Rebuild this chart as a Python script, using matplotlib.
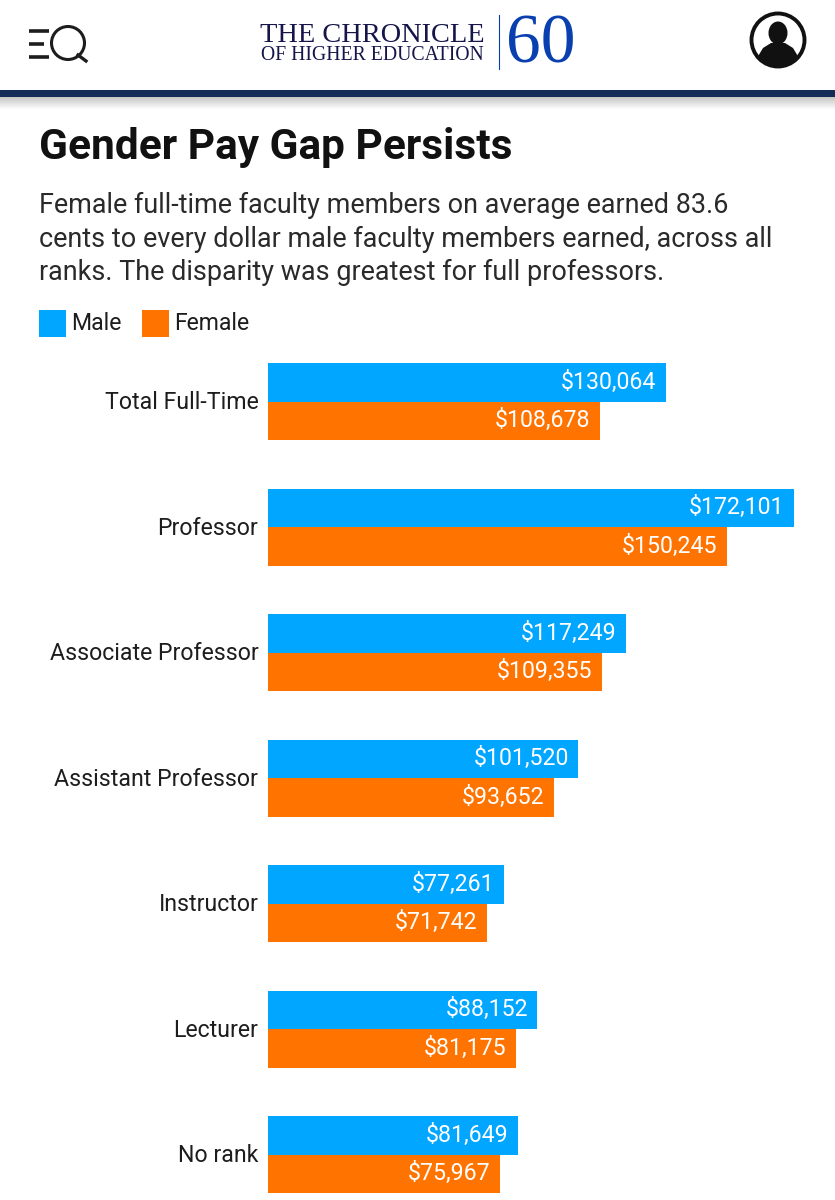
import matplotlib
matplotlib.use("Agg")
import matplotlib.pyplot as plt
from matplotlib.patches import Rectangle, Circle, Ellipse, Polygon
from matplotlib.transforms import ScaledTranslation
import numpy as np

categories = ["Total Full-Time", "Professor", "Associate Professor", "Assistant Professor",
              "Instructor", "Lecturer", "No rank"]
male = [130064, 172101, 117249, 101520, 77261, 88152, 81649]
female = [108678, 150245, 109355, 93652, 71742, 81175, 75967]
title = "Gender Pay Gap Persists"
subtitle = ["Female full-time faculty members on average earned 83.6",
            "cents to every dollar male faculty members earned, across all",
            "ranks. The disparity was greatest for full professors."]
BLUE = "#00a6ff"; ORANGE = "#ff7300"; INK = "#1d1d1d"; NAVY = "#142c58"; LOGO = "#15154a"; SIXTY = "#0a3fb0"

plt.rcParams["font.family"] = ["Roboto", "DejaVu Sans"]
W, H = 835, 1200
fig = plt.figure(figsize=(W/100, H/100), dpi=100, facecolor="white")

# overlay in pixel coordinates for page furniture
pg = fig.add_axes([0, 0, 1, 1]); pg.set_xlim(0, W); pg.set_ylim(H, 0); pg.axis("off")
# header rule and shadow
pg.add_patch(Rectangle((0, 89.5), W, 8, color=NAVY, lw=0))
shadow = np.linspace(0.78, 1, 14)[:, None]
pg.imshow(shadow, extent=(0, W, 110, 97), cmap="gray", vmin=0, vmax=1, aspect="auto", zorder=1)
pg.set_xlim(0, W); pg.set_ylim(H, 0)
# search icon
for y, x1 in [(31, 49), (44, 44), (57, 49)]:
    pg.plot([29, x1], [y, y], color=INK, lw=2.6, solid_capstyle="butt")
pg.add_patch(Circle((68, 43), 16.5, fill=False, ec=INK, lw=2.2))
pg.plot([78, 86], [55, 61], color=INK, lw=2.4)
# logo
pg.text(372, 35, "THE CHRONICLE", family="Liberation Serif", fontsize=20.4, color=LOGO, ha="center", va="center")
pg.text(372, 55.5, "OF HIGHER EDUCATION", family="Liberation Serif", fontsize=14.2, color=LOGO, ha="center", va="center")
pg.plot([499, 499], [15, 69], color=SIXTY, lw=0.8)
pg.text(541, 46, "60", family="Liberation Serif", fontsize=50, color=SIXTY, ha="center", va="center")
# user icon
pg.add_patch(Circle((778, 40), 26.5, fc="white", ec="#111111", lw=2.8))
pg.add_patch(Ellipse((778, 33), 19, 23, color="#111111", lw=0))
pg.add_patch(Polygon([[757, 58], [763, 48], [771, 43], [785, 43], [793, 48], [799, 58], [790, 65], [766, 65]], color="#111111", lw=0))

# headline
pg.text(39, 147, title, fontsize=30.5, fontweight="bold", color="#111111", va="center", ha="left")
for y, line in zip([205, 239, 272], subtitle):
    pg.text(39, y, line, fontsize=19.45, color="#2a2a2a", va="center", ha="left")
# legend
pg.add_patch(Rectangle((39, 310), 27, 27, color=BLUE, lw=0))
pg.text(71.5, 324, "Male", fontsize=16.6, color=INK, va="center")
pg.add_patch(Rectangle((142, 310), 27, 27, color=ORANGE, lw=0))
pg.text(174.5, 324, "Female", fontsize=16.6, color=INK, va="center")

# chart
spacing = 125.5
centre0 = 401.6
x0_px, top_px = 268, 340
ax = fig.add_axes([x0_px/W, 0, 1 - x0_px/W, 1 - top_px/H])
ax.patch.set_alpha(0)
ax.set_xlim(0, (W - x0_px) / (526 / 172101))
ax.set_ylim((H - centre0) / spacing, (top_px - centre0) / spacing)
pos = np.arange(len(categories))
h = 38.5 / spacing
b1 = ax.barh(pos - h/2, male, height=h, color=BLUE, lw=0)
b2 = ax.barh(pos + h/2, female, height=h, color=ORANGE, lw=0)
for bars, vals in ((b1, male), (b2, female)):
    for r, v in zip(bars, vals):
        ax.annotate(f"${v:,}", (v, r.get_y() + h/2), xytext=(-9.5, 0), textcoords="offset pixels",
                    ha="right", va="center", color="white", fontsize=16.7)
ax.set_yticks(pos, categories)
ax.tick_params(axis="y", length=0, pad=7, labelsize=16.7, labelcolor=INK)
shift = ScaledTranslation(0, 1.5/100, fig.dpi_scale_trans)
for lab in ax.get_yticklabels():
    lab.set_transform(lab.get_transform() + shift)
ax.set_xticks([])
for s in ax.spines.values():
    s.set_visible(False)
fig.savefig("out.png", dpi=100, facecolor="white")
